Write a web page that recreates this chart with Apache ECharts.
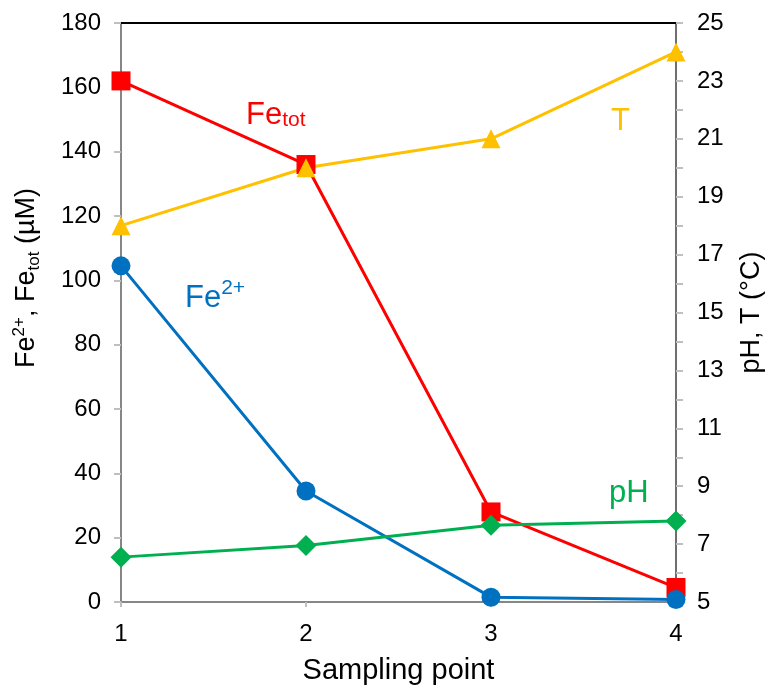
<!DOCTYPE html>
<html><head><meta charset="utf-8">
<script src="https://cdn.jsdelivr.net/npm/echarts@6/dist/echarts.min.js"></script>
<style>html,body{margin:0;padding:0;background:#fff}#c{width:769px;height:688px}</style>
</head><body><div id="c"></div>
<script>
const samplingPoints = [1, 2, 3, 4];
const feTot = [162, 136, 28, 4.5];
const fe2 = [104.5, 34.5, 1.5, 0.8];
const temperature = [18, 20, 21, 24];
const pH = [6.55, 6.95, 7.65, 7.8];
const leftTicks = {min: 0, max: 180, interval: 20};
const rightTicks = {min: 5, max: 25, interval: 1};

const FONT = 'Liberation Sans, Arial, sans-serif';
const pair = (ys) => samplingPoints.map((x, i) => [x, ys[i]]);

const chart = echarts.init(document.getElementById('c'));
chart.setOption({
  animation: false,
  textStyle: {fontFamily: FONT},
  grid: {left: 121, right: 93, top: 23, bottom: 86, containLabel: false, outerBoundsMode: 'none'},
  xAxis: [{
    type: 'value', min: 1, max: 4, interval: 1,
    name: 'Sampling point', nameLocation: 'middle', nameGap: 54,
    nameTextStyle: {fontSize: 29, color: '#000', fontFamily: FONT},
    axisLine: {show: true, lineStyle: {color: '#868686', width: 2}},
    axisTick: {show: true, length: 5, lineStyle: {color: '#bfbfbf', width: 2}},
    axisLabel: {fontSize: 24, color: '#000', margin: 20, fontFamily: FONT},
    splitLine: {show: false}
  }, {
    type: 'value', min: 1, max: 4, position: 'top',
    axisLine: {show: true, lineStyle: {color: '#000', width: 2}},
    axisTick: {show: false}, axisLabel: {show: false}, splitLine: {show: false}
  }],
  yAxis: [{
    type: 'value', min: leftTicks.min, max: leftTicks.max, interval: leftTicks.interval,
    position: 'left',
    axisLine: {show: true, lineStyle: {color: '#868686', width: 2}},
    axisTick: {show: true, length: 7, lineStyle: {color: '#bfbfbf', width: 2}},
    axisLabel: {fontSize: 24, color: '#000', margin: 20, fontFamily: FONT},
    splitLine: {show: false}
  }, {
    type: 'value', min: rightTicks.min, max: rightTicks.max, interval: rightTicks.interval,
    position: 'right',
    name: 'pH, T (°C)', nameLocation: 'middle', nameGap: 62, nameRotate: 90,
    nameTextStyle: {fontSize: 27, color: '#000', fontFamily: FONT},
    axisLine: {show: true, lineStyle: {color: '#6e6e6e', width: 2}},
    axisTick: {show: true, length: 7, lineStyle: {color: '#bfbfbf', width: 2}},
    axisLabel: {
      fontSize: 24, color: '#000', margin: 21, fontFamily: FONT,
      formatter: v => ((v - rightTicks.min) % 2 === 0 ? String(v) : '')
    },
    splitLine: {show: false}
  }],
  series: [{
    name: 'Fetot', type: 'line', yAxisIndex: 0, data: pair(feTot),
    symbol: 'rect', symbolSize: 19,
    lineStyle: {color: '#ff0000', width: 3}, itemStyle: {color: '#ff0000'}
  }, {
    name: 'Fe2+', type: 'line', yAxisIndex: 0, data: pair(fe2),
    symbol: 'circle', symbolSize: 19,
    lineStyle: {color: '#0070c0', width: 3}, itemStyle: {color: '#0070c0'}
  }, {
    name: 'pH', type: 'line', yAxisIndex: 1, data: pair(pH),
    symbol: 'diamond', symbolSize: [21, 21],
    lineStyle: {color: '#00b050', width: 3}, itemStyle: {color: '#00b050'}
  }, {
    name: 'T', type: 'line', yAxisIndex: 1, data: pair(temperature),
    symbol: 'triangle', symbolSize: 19,
    lineStyle: {color: '#ffc000', width: 3}, itemStyle: {color: '#ffc000'}
  }],
  graphic: [{
    type: 'text', x: 27, y: 278, rotation: Math.PI / 2,
    style: {
      text: '{a|Fe}{sup|2+}{a|, Fe}{sub|tot}{a| (µM)}',
      align: 'center', verticalAlign: 'middle',
      rich: {
        a: {fontSize: 27, fontFamily: FONT, fill: '#000', lineHeight: 32, verticalAlign: 'middle'},
        sup: {fontSize: 17, fontFamily: FONT, fill: '#000', lineHeight: 17, verticalAlign: 'top'},
        sub: {fontSize: 17, fontFamily: FONT, fill: '#000', lineHeight: 17, verticalAlign: 'bottom'}
      }
    }
  }, {
    type: 'text', left: 246, top: 95,
    style: {
      text: '{a|Fe}{b|tot}',
      rich: {
        a: {fontSize: 31, fontFamily: FONT, fill: '#ff0000', lineHeight: 31, verticalAlign: 'top'},
        b: {fontSize: 21, fontFamily: FONT, fill: '#ff0000', lineHeight: 21, verticalAlign: 'bottom', padding: [15, 0, 0, 0]}
      }
    }
  }, {
    type: 'text', left: 185, top: 278,
    style: {
      text: '{a|Fe}{b|2+}',
      rich: {
        a: {fontSize: 31, fontFamily: FONT, fill: '#0070c0', lineHeight: 36, verticalAlign: 'bottom'},
        b: {fontSize: 21, fontFamily: FONT, fill: '#0070c0', lineHeight: 21, verticalAlign: 'top'}
      }
    }
  }, {
    type: 'text', left: 611, top: 106,
    style: {text: 'T', fontSize: 31, fontFamily: FONT, fill: '#ffc000'}
  }, {
    type: 'text', left: 609, top: 478,
    style: {text: 'pH', fontSize: 31, fontFamily: FONT, fill: '#00b050'}
  }]
});
</script></body></html>
